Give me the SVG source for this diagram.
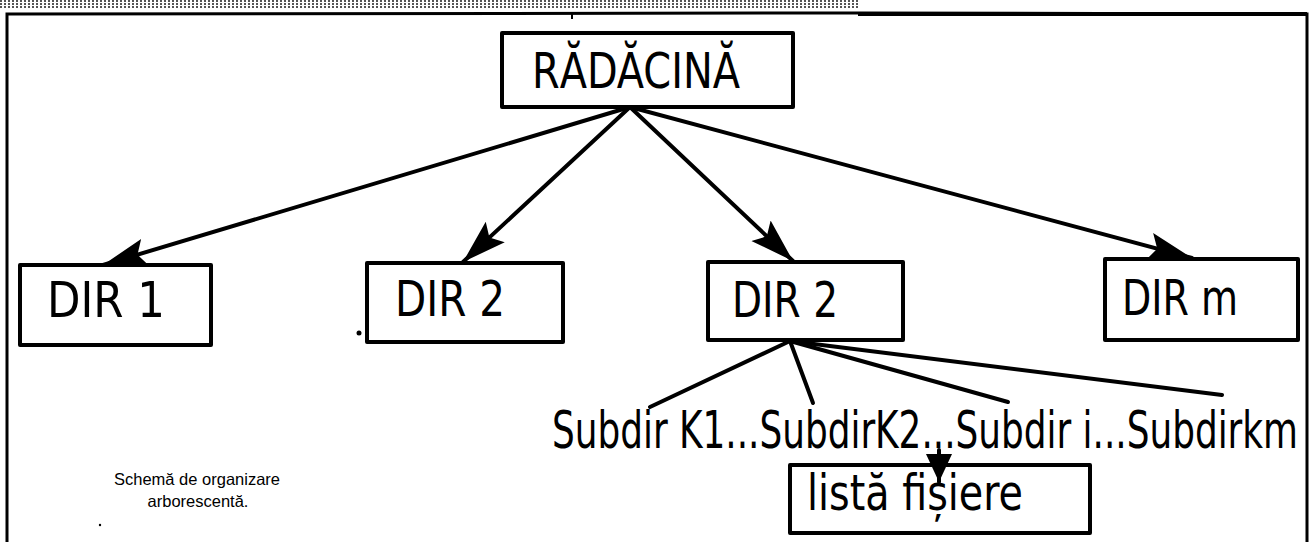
<svg xmlns="http://www.w3.org/2000/svg" width="1309" height="542" viewBox="0 0 1309 542">
<style>
.box{fill:#fff;stroke:#000;stroke-width:4;stroke-linejoin:round}
.lbl{font-family:"DejaVu Sans Condensed","DejaVu Sans","Liberation Sans Narrow",sans-serif;fill:#000}
.con{stroke:#000;stroke-width:4;fill:none;stroke-linecap:round}
.cap{font-family:"Liberation Sans",Arial,sans-serif;font-size:16.5px;fill:#000;text-anchor:middle}
</style>
<defs>
<pattern id="dots" width="4" height="3" patternUnits="userSpaceOnUse">
<rect width="4" height="3" fill="#fff"/>
<rect x="0" y="0" width="2" height="2" fill="#555"/>
</pattern>
<marker id="ah" markerUnits="userSpaceOnUse" markerWidth="46" markerHeight="32" refX="44" refY="16" orient="auto">
<path d="M0,2 L44,16 L0,30 L8,16 z" fill="#000"/>
</marker>
<marker id="ahs" markerUnits="userSpaceOnUse" markerWidth="30" markerHeight="28" refX="28" refY="14" orient="auto">
<path d="M0,1 L28,14 L0,27 z" fill="#000"/>
</marker>
</defs>
<rect x="0" y="0" width="1309" height="542" fill="#fff"/>
<g id="frame">
<rect x="0" y="0" width="858" height="9" fill="url(#dots)"/>
<path d="M7,542 L7,14 L858,13 L1307,14 L1307,542" fill="none" stroke="#000" stroke-width="3"/>
<line x1="858" y1="14" x2="1307" y2="14" stroke="#000" stroke-width="4"/>
<line x1="572" y1="14" x2="572" y2="19" stroke="#000" stroke-width="2"/>
<circle cx="359" cy="333" r="2.5" fill="#000"/>
<circle cx="100" cy="525" r="1.2" fill="#000"/>
</g>
<g id="radacina">
<rect class="box" x="502" y="33" width="291" height="74"/>
<text class="lbl" x="532" y="88" font-size="50" textLength="208" lengthAdjust="spacingAndGlyphs">RĂDĂCINĂ</text>
</g>
<g id="dir1">
<rect class="box" x="20" y="265" width="191" height="80"/>
<text class="lbl" x="47" y="317" font-size="50" textLength="118" lengthAdjust="spacingAndGlyphs">DIR 1</text>
</g>
<g id="dir2a">
<rect class="box" x="367" y="263" width="196" height="79"/>
<text class="lbl" x="395" y="316" font-size="50" textLength="110" lengthAdjust="spacingAndGlyphs">DIR 2</text>
</g>
<g id="dir2b">
<rect class="box" x="708" y="262" width="195" height="78"/>
<text class="lbl" x="732" y="317" font-size="50" textLength="106" lengthAdjust="spacingAndGlyphs">DIR 2</text>
</g>
<g id="dirm">
<rect class="box" x="1105" y="259" width="193" height="81"/>
<text class="lbl" x="1122" y="315" font-size="50" textLength="116" lengthAdjust="spacingAndGlyphs">DIR m</text>
</g>
<g id="subdirs">
<text class="lbl" x="552" y="448" font-size="51" textLength="746" lengthAdjust="spacingAndGlyphs">Subdir K1...SubdirK2...Subdir i...Subdirkm</text>
</g>
<g id="lista">
<rect class="box" x="790" y="465" width="300" height="68"/>
<text class="lbl" x="807" y="510" font-size="50" textLength="216" lengthAdjust="spacingAndGlyphs">listă fișiere</text>
</g>
<g id="caption">
<text class="cap" x="197" y="485">Schemă de organizare</text>
<text class="cap" x="198" y="507">arborescentă.</text>
</g>
<g id="connectors">
<line class="con" x1="630" y1="107" x2="103" y2="265" marker-end="url(#ah)"/>
<line class="con" x1="630" y1="107" x2="463" y2="262" marker-end="url(#ah)"/>
<line class="con" x1="630" y1="107" x2="793" y2="261" marker-end="url(#ah)"/>
<line class="con" x1="630" y1="107" x2="1192" y2="258" marker-end="url(#ah)"/>
<line class="con" x1="790" y1="341" x2="650" y2="407"/>
<line class="con" x1="790" y1="341" x2="813" y2="403"/>
<line class="con" x1="790" y1="341" x2="1008" y2="402"/>
<line class="con" x1="790" y1="341" x2="1222" y2="395"/>
<line class="con" x1="939" y1="450" x2="939" y2="482" stroke-width="3" marker-end="url(#ahs)"/>
</g>
</svg>
